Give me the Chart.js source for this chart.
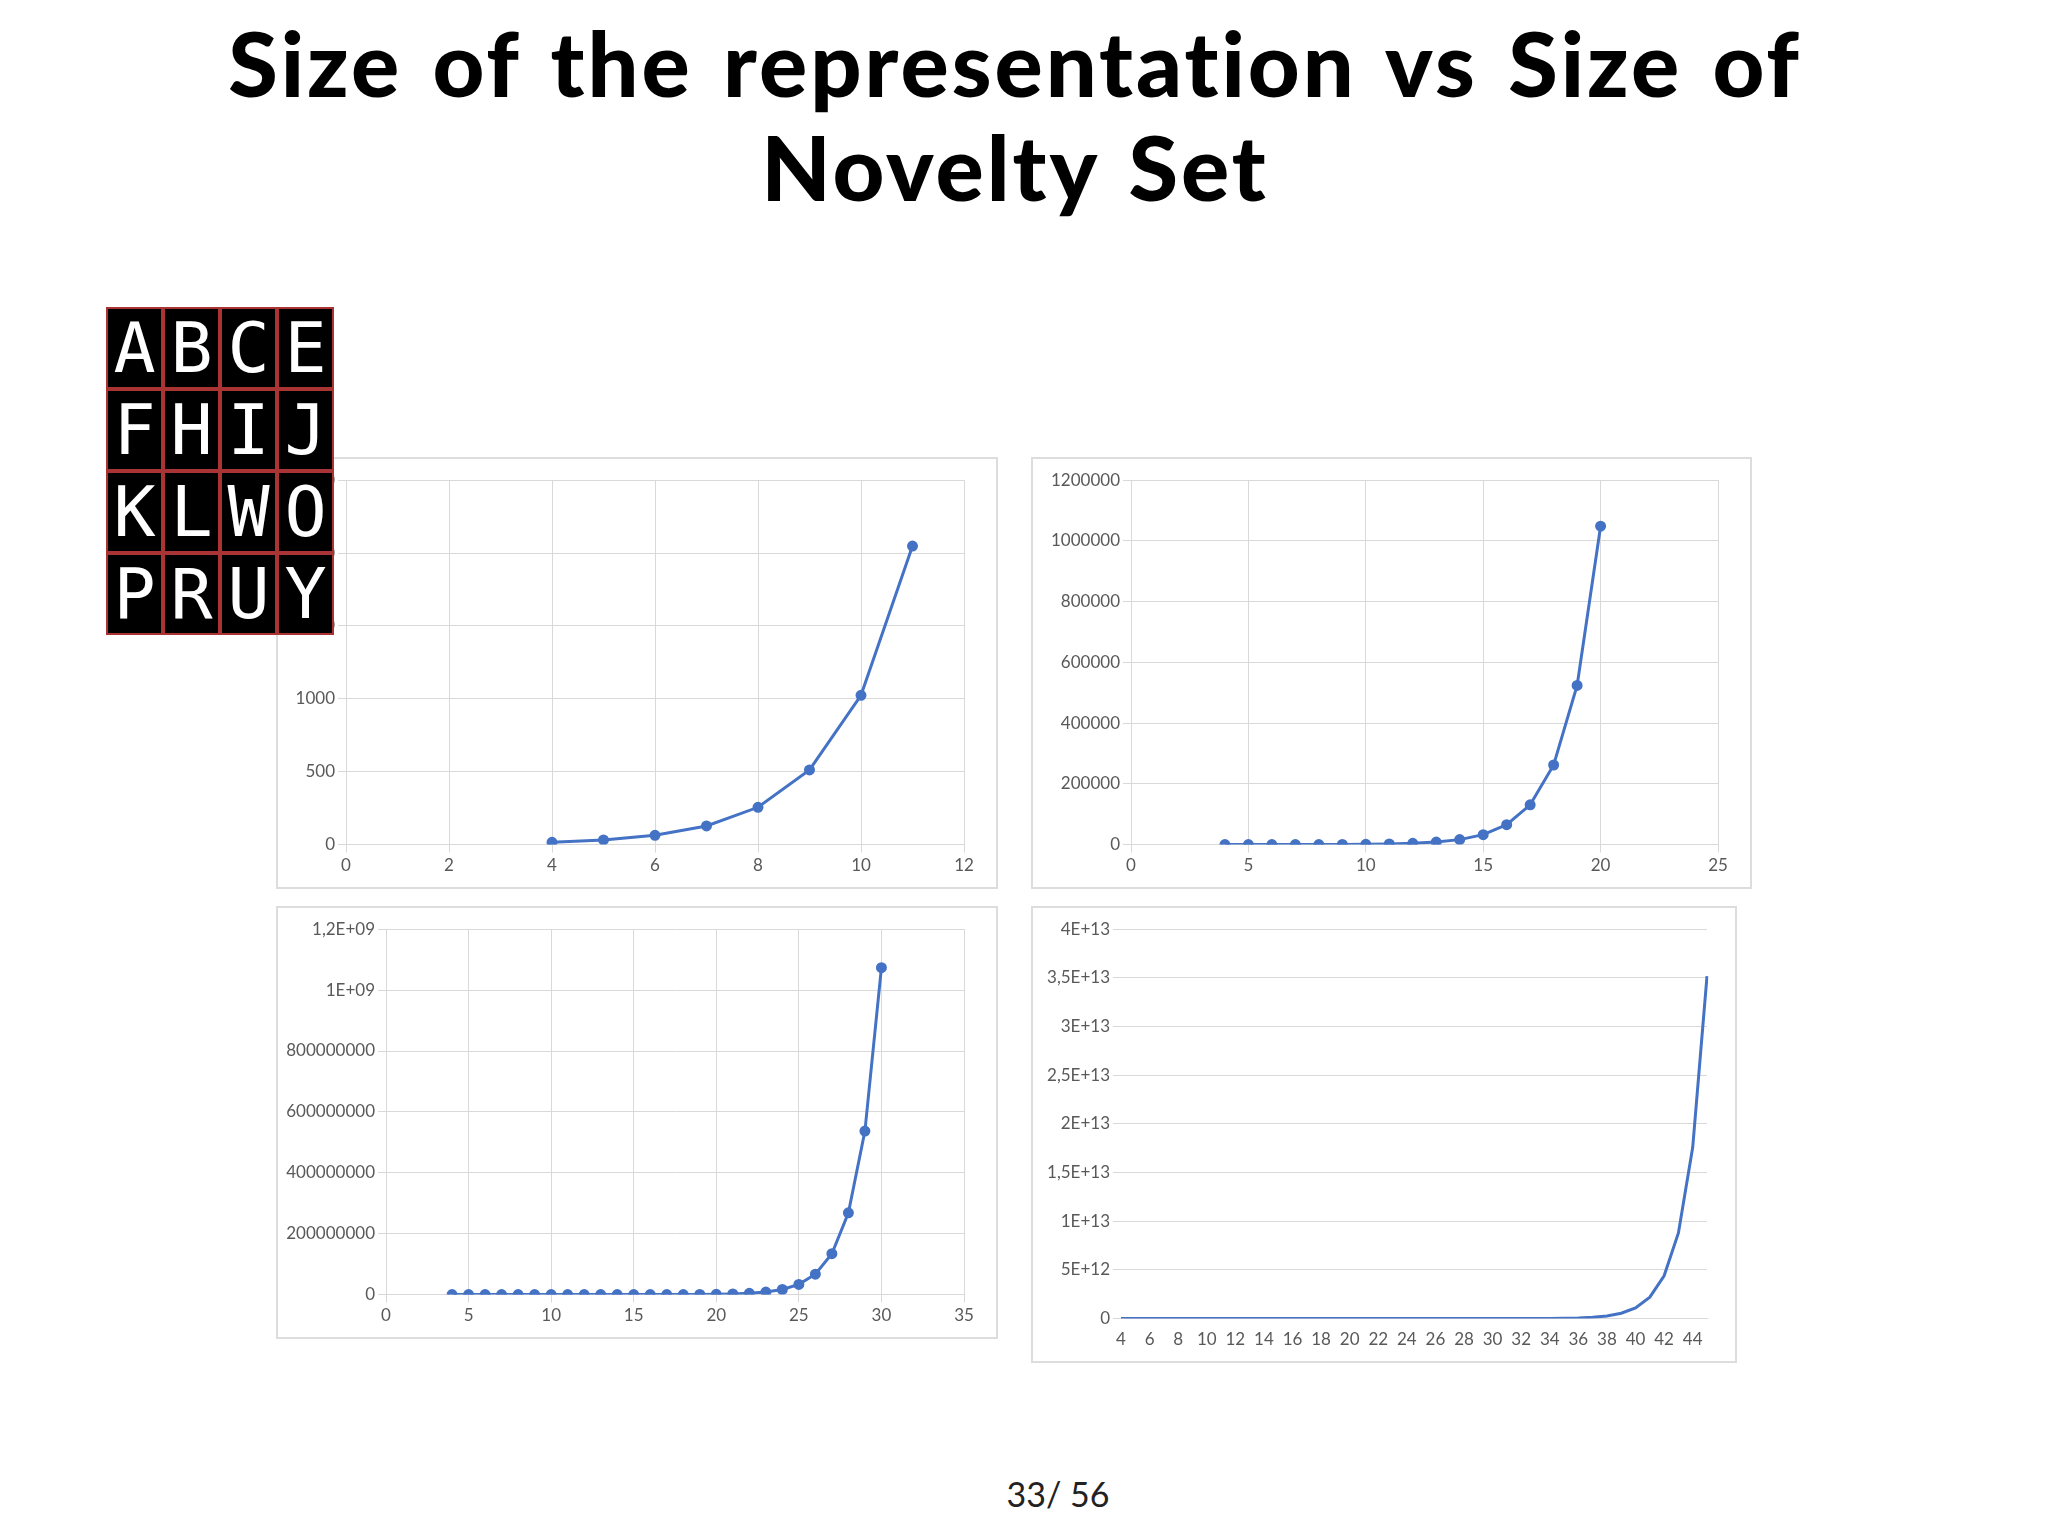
<!DOCTYPE html>
<html><head><meta charset="utf-8">
<script src="https://cdn.jsdelivr.net/npm/chart.js@4"></script>
<style>
body{margin:0;width:2048px;height:1536px;background:#fff;position:relative;font-family:Lato,"DejaVu Sans",sans-serif;overflow:hidden}
h1{position:absolute;left:0;width:2030px;top:10px;margin:0;text-align:center;font-weight:900;font-size:90px;letter-spacing:3px;word-spacing:6px;line-height:104px;color:#000}
.box{position:absolute;border:2px solid #ddd;box-sizing:border-box;padding:8px}
.grid{position:absolute;left:108px;top:309px;display:grid;grid-template-columns:repeat(4,53px);gap:4px}
.grid div{background:#000;color:#fff;height:78px;font-family:"DejaVu Sans Mono",monospace;font-size:70px;line-height:78px;text-align:center;outline:2px solid #a33}
.pg{position:absolute;left:0;width:2116px;top:1473px;text-align:center;font-size:34px;color:#222}
</style></head><body>
<h1>Size of the representation vs Size of<br>Novelty Set</h1>
<div class="box" style="left:276px;top:457px;width:722px;height:432px"><canvas id="c1"></canvas></div>
<div class="box" style="left:1031px;top:457px;width:721px;height:432px"><canvas id="c2"></canvas></div>
<div class="box" style="left:276px;top:906px;width:722px;height:433px"><canvas id="c3"></canvas></div>
<div class="box" style="left:1031px;top:906px;width:706px;height:457px"><canvas id="c4"></canvas></div>
<div class="grid" id="g"></div>
<div class="pg">33/ 56</div>
<script>
const letters = ['A','B','C','E','F','H','I','J','K','L','W','O','P','R','U','Y'];
const x1 = [4,5,6,7,8,9,10,11];
const y1 = [16,32,64,128,256,512,1024,2048];
const x2 = [4,5,6,7,8,9,10,11,12,13,14,15,16,17,18,19,20];
const y2 = [16,32,64,128,256,512,1024,2048,4096,8192,16384,32768,65536,131072,262144,524288,1048576];
const x3 = [4,5,6,7,8,9,10,11,12,13,14,15,16,17,18,19,20,21,22,23,24,25,26,27,28,29,30];
const y3 = [16,32,64,128,256,512,1024,2048,4096,8192,16384,32768,65536,131072,262144,524288,1048576,2097152,4194304,8388608,16777216,33554432,67108864,134217728,268435456,536870912,1073741824];
const x4 = [4,5,6,7,8,9,10,11,12,13,14,15,16,17,18,19,20,21,22,23,24,25,26,27,28,29,30,31,32,33,34,35,36,37,38,39,40,41,42,43,44,45];
const y4 = [16,32,64,128,256,512,1024,2048,4096,8192,16384,32768,65536,131072,262144,524288,1048576,2097152,4194304,8388608,16777216,33554432,67108864,134217728,268435456,536870912,1073741824,2147483648,4294967296,8589934592,17179869184,34359738368,68719476736,137438953472,274877906944,549755813888,1099511627776,2199023255552,4398046511104,8796093022208,17592186044416,35184372088832];

const g = document.getElementById('g');
letters.forEach(l => { const d = document.createElement('div'); d.textContent = l; g.appendChild(d); });

Chart.defaults.font.family = 'Lato, "DejaVu Sans", sans-serif';
Chart.defaults.font.size = 17;
Chart.defaults.color = '#595959';
const blue = '#4472C4';
const gridc = '#d9d9d9';

function lin(id, xs, ys, xmax, xstep, ymax, ystep, fmt, yw) {
  new Chart(document.getElementById(id), {
    type: 'scatter',
    data: { datasets: [{ data: xs.map((x, i) => ({ x: x, y: ys[i] })), showLine: true,
      borderColor: blue, backgroundColor: blue, borderWidth: 3, pointRadius: 4 }] },
    options: { responsive: true, maintainAspectRatio: false, animation: false,
      plugins: { legend: { display: false }, tooltip: { enabled: false } },
      layout: { padding: { right: 24, top: 10 } },
      scales: {
        x: { min: 0, max: xmax, ticks: { stepSize: xstep }, grid: { color: gridc }, border: { color: gridc } },
        y: { min: 0, max: ymax, afterFit: s => { s.width = yw; }, ticks: { stepSize: ystep, callback: fmt },
          grid: { color: gridc }, border: { color: gridc } }
      } }
  });
}
lin('c1', x1, y1, 12, 2, 2500, 500, v => v, 60);
lin('c2', x2, y2, 25, 5, 1200000, 200000, v => v, 90);
lin('c3', x3, y3, 35, 5, 1200000000, 200000000, v => v === 1.2e9 ? '1,2E+09' : v === 1e9 ? '1E+09' : v, 100);

function sci(v) {
  if (v === 0) return '0';
  const e = Math.floor(Math.log10(v) + 1e-9);
  const m = +(v / Math.pow(10, e)).toFixed(1);
  return String(m).replace('.', ',') + 'E+' + e;
}
new Chart(document.getElementById('c4'), {
  type: 'line',
  data: { labels: x4, datasets: [{ data: y4, borderColor: blue, borderWidth: 3, pointRadius: 0 }] },
  options: { responsive: true, maintainAspectRatio: false, animation: false,
    plugins: { legend: { display: false }, tooltip: { enabled: false } },
    layout: { padding: { right: 20, top: 10 } },
    scales: {
      x: { offset: false, grid: { display: false }, border: { color: gridc },
        ticks: { maxRotation: 0, autoSkip: false, callback: (v, i) => i % 2 === 0 ? x4[i] : '' } },
      y: { min: 0, max: 4e13, afterFit: s => { s.width = 80; }, ticks: { stepSize: 5e12, callback: sci },
        grid: { color: gridc }, border: { display: false } }
    } }
});
</script>
</body></html>
